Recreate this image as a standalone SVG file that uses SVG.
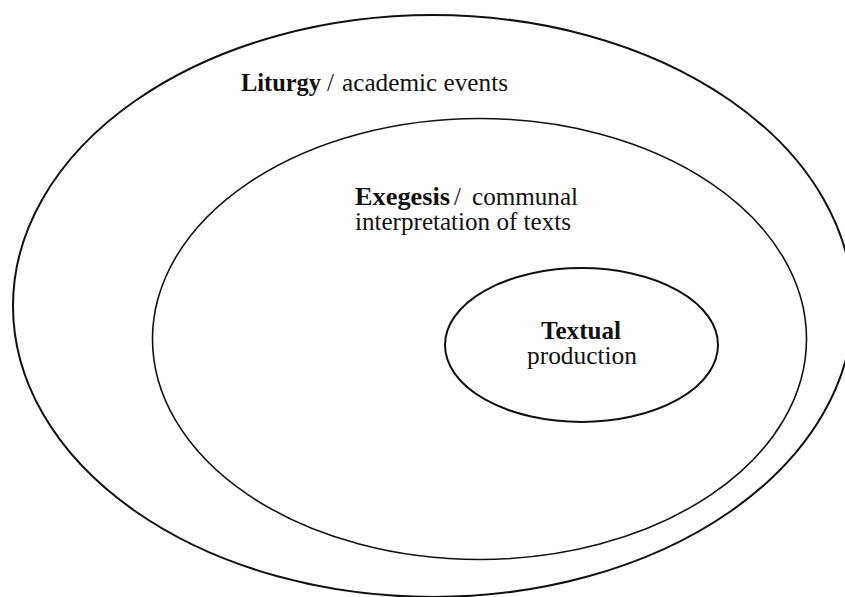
<svg xmlns="http://www.w3.org/2000/svg" width="845" height="597" viewBox="0 0 845 597">
<style>
.ring{fill:none;stroke:#111}
.t{font-family:"Liberation Serif","Times New Roman",serif;font-size:25px;fill:#111}
.b{font-weight:bold}
</style>
<rect width="845" height="597" fill="#fff"/>
<g id="liturgy">
<ellipse class="ring" cx="433" cy="306" rx="420" ry="291" stroke-width="2"/>
<text class="t b" x="241" y="91" textLength="80" lengthAdjust="spacingAndGlyphs">Liturgy</text>
<text class="t" x="327" y="91">/</text>
<text class="t" x="342" y="91" textLength="166" lengthAdjust="spacingAndGlyphs">academic events</text>
</g>
<g id="exegesis">
<ellipse class="ring" cx="479.5" cy="339" rx="327" ry="220.5" stroke-width="1.6"/>
<text class="t b" x="355" y="205" textLength="95" lengthAdjust="spacingAndGlyphs">Exegesis</text>
<text class="t" x="454" y="205">/</text>
<text class="t" x="472" y="205" textLength="106" lengthAdjust="spacingAndGlyphs">communal</text>
<text class="t" x="355" y="230" textLength="216" lengthAdjust="spacingAndGlyphs">interpretation of texts</text>
</g>
<g id="textual">
<ellipse class="ring" cx="581.5" cy="345" rx="136.5" ry="77" stroke-width="2"/>
<text class="t b" x="541" y="339" textLength="80" lengthAdjust="spacingAndGlyphs">Textual</text>
<text class="t" x="527" y="364" textLength="110" lengthAdjust="spacingAndGlyphs">production</text>
</g>
</svg>
